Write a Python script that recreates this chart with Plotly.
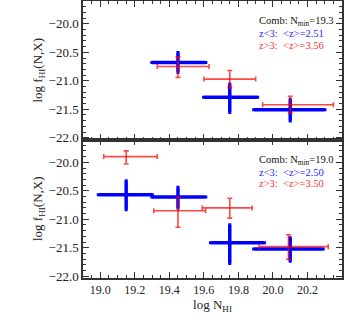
import numpy as np
import plotly.graph_objects as go
from plotly.subplots import make_subplots

# ---- top panel (N_min = 19.3) ----
top_blue_x = [19.45, 19.75, 20.10]
top_blue_xlo = [19.30, 19.60, 19.89]
top_blue_xhi = [19.61, 19.91, 20.30]
top_blue_y = [-20.68, -21.29, -21.51]
top_blue_ylo = [-20.85, -21.55, -21.70]
top_blue_yhi = [-20.51, -21.06, -21.33]

top_red_x = [19.45, 19.75, 20.10]
top_red_xlo = [19.33, 19.60, 19.94]
top_red_xhi = [19.63, 19.90, 20.35]
top_red_y = [-20.75, -20.97, -21.42]
top_red_ylo = [-20.94, -21.12, -21.57]
top_red_yhi = [-20.58, -20.82, -21.27]

# ---- bottom panel (N_min = 19.0) ----
bot_blue_x = [19.15, 19.45, 19.75, 20.10]
bot_blue_xlo = [18.99, 19.30, 19.64, 19.89]
bot_blue_xhi = [19.30, 19.61, 19.95, 20.29]
bot_blue_y = [-20.57, -20.61, -21.41, -21.52]
bot_blue_ylo = [-20.83, -20.80, -21.77, -21.73]
bot_blue_yhi = [-20.33, -20.44, -21.10, -21.33]

bot_red_x = [19.15, 19.45, 19.75, 20.09]
bot_red_xlo = [19.02, 19.31, 19.59, 19.92]
bot_red_xhi = [19.33, 19.61, 19.88, 20.32]
bot_red_y = [-19.90, -20.85, -20.80, -21.48]
bot_red_ylo = [-20.03, -21.14, -20.98, -21.70]
bot_red_yhi = [-19.80, -20.61, -20.63, -21.27]

top_labels = ["Comb: N<sub>min</sub>=19.3", "z&lt;3:  &lt;z&gt;=2.51", "z&gt;3:  &lt;z&gt;=3.56"]
bot_labels = ["Comb: N<sub>min</sub>=19.0", "z&lt;3:  &lt;z&gt;=2.50", "z&gt;3:  &lt;z&gt;=3.50"]

BLUE = "rgb(0,0,255)"
RED = "rgba(255,0,0,0.72)"
FONT = "Liberation Serif, DejaVu Serif, serif"

fig = make_subplots(rows=2, cols=1, shared_xaxes=True, vertical_spacing=0)


def add_series(row, x, xlo, xhi, y, ylo, yhi, color, thick, cap):
    x = np.array(x); y = np.array(y)
    fig.add_trace(go.Scatter(
        x=x, y=y, mode="markers", marker=dict(size=1, color=color),
        showlegend=False, cliponaxis=True,
        error_x=dict(type="data", symmetric=False,
                     array=np.array(xhi) - x, arrayminus=x - np.array(xlo),
                     color=color, thickness=thick, width=cap),
        error_y=dict(type="data", symmetric=False,
                     array=np.array(yhi) - y, arrayminus=y - np.array(ylo),
                     color=color, thickness=thick, width=cap),
    ), row=row, col=1)


add_series(1, top_blue_x, top_blue_xlo, top_blue_xhi, top_blue_y, top_blue_ylo, top_blue_yhi, BLUE, 3.5, 1.5)
add_series(1, top_red_x, top_red_xlo, top_red_xhi, top_red_y, top_red_ylo, top_red_yhi, RED, 1.6, 2.5)
add_series(2, bot_blue_x, bot_blue_xlo, bot_blue_xhi, bot_blue_y, bot_blue_ylo, bot_blue_yhi, BLUE, 3.5, 1.5)
add_series(2, bot_red_x, bot_red_xlo, bot_red_xhi, bot_red_y, bot_red_ylo, bot_red_yhi, RED, 1.6, 2.5)

axis_common = dict(
    showline=True, linecolor="#333", linewidth=1.5, mirror="ticks",
    ticks="inside", ticklen=6, tickwidth=1.2, tickcolor="#333",
    showgrid=False, zeroline=False, automargin=False,
)

fig.update_xaxes(range=[18.9, 20.4], dtick=0.2, tick0=19.0, tickformat=".1f",
                 tickfont=dict(family=FONT, size=12, color="#222"),
                 minor=dict(ticks="inside", ticklen=3, dtick=0.05, tickcolor="#333", tickwidth=1),
                 **axis_common)
fig.update_xaxes(showticklabels=False, row=1, col=1)
fig.update_xaxes(title=dict(text="log N<sub>HI</sub>", font=dict(family=FONT, size=13, color="#222"), standoff=2),
                 row=2, col=1)
fig.update_yaxes(range=[-22.03, -19.6], dtick=0.5, tick0=-20.0, tickformat=".1f",
                 tickfont=dict(family=FONT, size=13, color="#222"),
                 minor=dict(ticks="inside", ticklen=3, dtick=0.1, tickcolor="#333", tickwidth=1),
                 title=dict(text="log f<sub>HI</sub>(N,X)", font=dict(family=FONT, size=13, color="#222"), standoff=3),
                 **axis_common)

colors = ["#111", "rgb(40,40,255)", "rgb(255,50,50)"]
for ref, labels in (("", top_labels), ("2", bot_labels)):
    for i, (t, c) in enumerate(zip(labels, colors)):
        fig.add_annotation(x=0.67, y=0.85 - i * 0.085, xref="x" + ref + " domain", yref="y" + ref + " domain",
                           text=t, showarrow=False, xanchor="left", yanchor="middle",
                           font=dict(family=FONT, size=10.5, color=c))

fig.update_layout(
    width=349, height=322,
    margin=dict(l=83, r=7, t=1, b=44, autoexpand=False),
    paper_bgcolor="white", plot_bgcolor="white",
    font=dict(family=FONT, color="#222"),
)

fig.write_html("out.html", config={"displayModeBar": False},
               post_script="document.body.style.margin='0';document.body.style.padding='0';")
